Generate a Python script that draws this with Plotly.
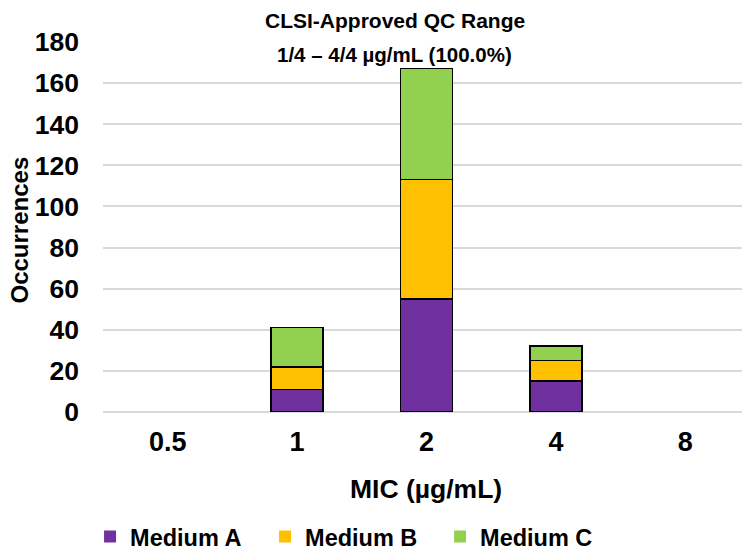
import plotly.graph_objects as go

categories = ["0.5", "1", "2", "4", "8"]
medium_a = [0, 11, 55, 15, 0]
medium_b = [0, 11, 58, 10, 0]
medium_c = [0, 19, 54, 7, 0]
series_names = ["Medium A", "Medium B", "Medium C"]
colors = ["#7030A0", "#FFC000", "#92D050"]
y_ticks = list(range(0, 181, 20))

FONT = "Liberation Sans, Arial, sans-serif"

fig = go.Figure()
for name, vals, col in zip(series_names, [medium_a, medium_b, medium_c], colors):
    fig.add_trace(go.Bar(
        x=categories, y=vals, name=name,
        marker=dict(color=col,
                    line=dict(color="black", width=[1.5 if v else 0 for v in vals])),
    ))

# the page adds an 8px body margin, so the figure is 8px smaller and offsets shrink by 8
fig.update_layout(
    width=742, height=547,
    barmode="stack", bargap=0.6,
    margin=dict(l=95, r=0, t=34, b=143, autoexpand=False),
    plot_bgcolor="white", paper_bgcolor="white",
    font=dict(family=FONT, size=24, color="black"),
    showlegend=True,
    legend=dict(orientation="h", x=-0.02, xanchor="left", y=-0.337, yanchor="middle",
                font=dict(family=FONT, size=23.5, color="black", weight="bold"),
                entrywidth=130, traceorder="normal"),
    xaxis=dict(type="category", showgrid=False, showline=False, ticks="", automargin=False,
               tickfont=dict(family=FONT, size=27, weight="bold"),
               ticklabelstandoff=11),
    yaxis=dict(range=[0, 180], tickvals=y_ticks, showgrid=True, gridcolor="#D9D9D9",
               gridwidth=1.5, zeroline=True, zerolinecolor="#D9D9D9", zerolinewidth=1.5,
               showline=False, ticks="", automargin=False,
               tickfont=dict(family=FONT, size=26.5, weight="bold"),
               ticklabelstandoff=23),
    annotations=[
        dict(text="CLSI-Approved QC Range", xref="paper", yref="paper", x=0.451, y=1.057,
             showarrow=False, xanchor="center", yanchor="middle",
             font=dict(family=FONT, size=21, weight="bold")),
        dict(text="1/4 – 4/4 µg/mL (100.0%)", xref="paper", yref="paper", x=0.451, y=0.966,
             showarrow=False, xanchor="center", yanchor="middle",
             font=dict(family=FONT, size=20.5, weight="bold")),
        dict(text="MIC (µg/mL)", xref="paper", yref="paper", x=0.499, y=-0.208,
             showarrow=False, xanchor="center", yanchor="middle",
             font=dict(family=FONT, size=26.5, weight="bold")),
        dict(text="Occurrences", xref="paper", yref="paper", x=-0.129, y=0.492,
             showarrow=False, xanchor="center", yanchor="middle", textangle=-90,
             font=dict(family=FONT, size=24, weight="bold")),
    ],
)

fig.write_html("out.html")
